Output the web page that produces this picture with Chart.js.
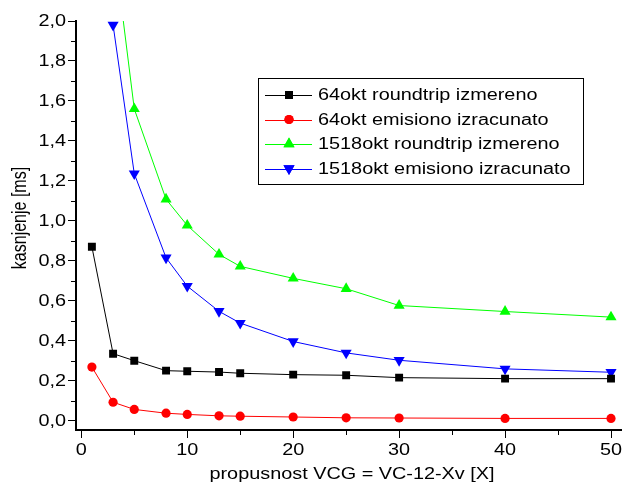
<!DOCTYPE html>
<html>
<head>
<meta charset="utf-8">
<script src="https://cdn.jsdelivr.net/npm/chart.js@4.4.1/dist/chart.umd.min.js"></script>
<style>
  html, body { margin: 0; padding: 0; background: #fff; }
  #wrap { width: 628px; height: 492px; }
</style>
</head>
<body>
<div id="wrap"><canvas id="delayChart" width="628" height="492"></canvas></div>
<script>
// bandwidth (number of VC-12 in the group)
const xValues = [1, 3, 5, 8, 10, 13, 15, 20, 25, 30, 40, 50];
const xValuesGreen = [3, 5, 8, 10, 13, 15, 20, 25, 30, 40, 50];
const xValuesBlue = [3, 5, 8, 10, 13, 15, 20, 25, 30, 40, 50];

// delays in ms
const rt64 = [0.87, 0.335, 0.30, 0.25, 0.247, 0.243, 0.237, 0.23, 0.227, 0.215, 0.21, 0.21];
const em64 = [0.268, 0.092, 0.056, 0.037, 0.031, 0.024, 0.022, 0.018, 0.014, 0.013, 0.011, 0.011];
const rt1518 = [2.41, 1.56, 1.108, 0.977, 0.832, 0.772, 0.712, 0.66, 0.576, 0.546, 0.518];
const em1518 = [1.98, 1.236, 0.815, 0.673, 0.547, 0.488, 0.396, 0.339, 0.302, 0.259, 0.242];

const seriesNames = [
    '64okt roundtrip izmereno',
    '64okt emisiono izracunato',
    '1518okt roundtrip izmereno',
    '1518okt emisiono izracunato'
];

const xTicks = [0, 10, 20, 30, 40, 50];
const xTickLabels = ['0', '10', '20', '30', '40', '50'];
const xMinorTicks = [5, 15, 25, 35, 45];
const yTicks = [0, 0.2, 0.4, 0.6, 0.8, 1.0, 1.2, 1.4, 1.6, 1.8, 2.0];
const yTickLabels = ['0,0', '0,2', '0,4', '0,6', '0,8', '1,0', '1,2', '1,4', '1,6', '1,8', '2,0'];
const yMinorTicks = [0.1, 0.3, 0.5, 0.7, 0.9, 1.1, 1.3, 1.5, 1.7, 1.9];

const FONT = '16px "Liberation Sans", Arial, sans-serif';
const STRETCH = 1.24; // the original figure is a bit wider than tall

const toPoints = (xs, ys) => xs.map((x, i) => ({ x: x, y: ys[i] }));

const styles = [
    { color: '#000000', pointStyle: 'rect', radius: 5.6, rotation: 0 },
    { color: '#ff0000', pointStyle: 'circle', radius: 4.6, rotation: 0 },
    { color: '#00ff00', pointStyle: 'triangle', radius: 6.4, rotation: 0 },
    { color: '#0000ff', pointStyle: 'triangle', radius: 6.4, rotation: 180 }
];

const dataSets = [
    toPoints(xValues, rt64),
    toPoints(xValues, em64),
    toPoints(xValuesGreen, rt1518),
    toPoints(xValuesBlue, em1518)
];

// draw text widened horizontally
function wideText(c, text, x, y, align) {
    c.save();
    c.translate(x, y);
    c.scale(STRETCH, 1);
    c.textAlign = align;
    c.fillText(text, 0, 0);
    c.restore();
}

// minor ticks, tick labels, axis titles and the boxed legend
const extrasPlugin = {
    id: 'extras',
    afterDraw(chart) {
        const c = chart.ctx;
        const xs = chart.scales.x;
        const ys = chart.scales.y;
        const area = chart.chartArea;
        c.save();
        c.strokeStyle = '#000';
        c.lineWidth = 1;
        c.beginPath();
        xMinorTicks.forEach(v => {
            const px = Math.round(xs.getPixelForValue(v)) + 0.5;
            c.moveTo(px, area.bottom);
            c.lineTo(px, area.bottom + 5);
        });
        yMinorTicks.forEach(v => {
            const py = Math.round(ys.getPixelForValue(v)) + 0.5;
            c.moveTo(area.left, py);
            c.lineTo(area.left - 5, py);
        });
        c.stroke();

        c.fillStyle = '#000';
        c.font = FONT;
        c.textBaseline = 'middle';

        // tick labels
        xTicks.forEach((v, i) => wideText(c, xTickLabels[i], xs.getPixelForValue(v), 451, 'center'));
        yTicks.forEach((v, i) => wideText(c, yTickLabels[i], 66, ys.getPixelForValue(v) + 1, 'right'));

        // axis titles
        wideText(c, 'propusnost VCG = VC-12-Xv [X]', 352, 475, 'center');
        c.save();
        c.translate(21, 218);
        c.scale(STRETCH, 1);
        c.rotate(-Math.PI / 2);
        c.textAlign = 'center';
        c.fillText('kasnjenje [ms]', 0, 0);
        c.restore();

        // legend
        c.lineWidth = 1;
        c.strokeStyle = '#000';
        c.strokeRect(258.5, 78.5, 325, 106);
        seriesNames.forEach((name, i) => {
            const y = 95 + i * 24.5;
            const st = styles[i];
            c.strokeStyle = st.color;
            c.beginPath();
            c.moveTo(265, Math.round(y) + 0.5);
            c.lineTo(312, Math.round(y) + 0.5);
            c.stroke();
            c.fillStyle = st.color;
            Chart.helpers.drawPoint(c, {
                pointStyle: st.pointStyle,
                radius: st.radius,
                rotation: st.rotation,
                borderWidth: 0
            }, 289, y);
            c.fill();
            c.fillStyle = '#000';
            wideText(c, name, 318, y + 1, 'left');
        });
        c.restore();
    }
};

const ctx = document.getElementById('delayChart').getContext('2d');

const delayChart = new Chart(ctx, {
    type: 'scatter',
    data: {
        datasets: dataSets.map((pts, i) => ({
            label: seriesNames[i],
            data: pts,
            showLine: true,
            borderColor: styles[i].color,
            borderWidth: 1,
            backgroundColor: styles[i].color,
            pointStyle: styles[i].pointStyle,
            pointRotation: styles[i].rotation,
            pointRadius: styles[i].radius,
            pointBorderWidth: 0,
            pointBackgroundColor: styles[i].color,
            tension: 0
        }))
    },
    options: {
        responsive: false,
        animation: false,
        devicePixelRatio: 1,
        layout: { padding: { top: 21, left: 0, right: 0, bottom: 0 } },
        plugins: {
            legend: { display: false },
            tooltip: { enabled: false }
        },
        scales: {
            x: {
                type: 'linear',
                min: -0.5,
                max: 51,
                afterFit: (s) => { s.height = 62; },
                afterBuildTicks: (s) => { s.ticks = xTicks.map(v => ({ value: v })); },
                grid: {
                    drawOnChartArea: false,
                    drawTicks: true,
                    tickLength: 8,
                    tickColor: '#000',
                    tickWidth: 1
                },
                border: { display: true, color: '#000', width: 2 },
                ticks: { display: false }
            },
            y: {
                type: 'linear',
                min: -0.047,
                max: 2.0,
                afterFit: (s) => { s.width = 76; },
                afterBuildTicks: (s) => { s.ticks = yTicks.map(v => ({ value: v })); },
                grid: {
                    drawOnChartArea: false,
                    drawTicks: true,
                    tickLength: 8,
                    tickColor: '#000',
                    tickWidth: 1
                },
                border: { display: true, color: '#000', width: 2 },
                ticks: { display: false }
            }
        }
    },
    plugins: [extrasPlugin]
});
</script>
</body>
</html>
